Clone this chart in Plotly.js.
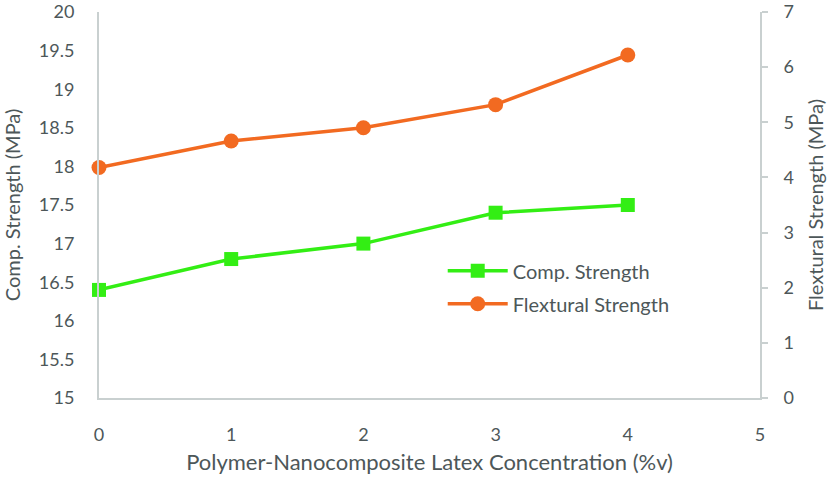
<!DOCTYPE html>
<html>
<head>
<meta charset="utf-8">
<script src="https://cdn.plot.ly/plotly-3.0.1.min.js"></script>
<style>
  html, body { margin: 0; padding: 0; background: #fff; }
  #chart { width: 830px; height: 477px; }
</style>
</head>
<body>
<div id="chart"></div>
<script>
let concentration = [0, 1, 2, 3, 4];
let compStrength = [16.4, 16.8, 17.0, 17.4, 17.5];
let flexStrength = [4.18, 4.66, 4.9, 5.32, 6.22];

let textColor = '#4d5759';
let axisColor = '#c9d0d0';

let data = [{
    type: 'scatter',
    mode: 'lines+markers',
    name: 'Comp. Strength',
    legendgroup: 'comp',
    x: concentration,
    y: compStrength,
    line: {color: '#33ee14', width: 3.5},
    marker: {symbol: 'square', size: 14, color: '#33ee14'},
    cliponaxis: false
}, {
    type: 'scatter',
    mode: 'lines+markers',
    name: 'Flextural Strength',
    legendgroup: 'flex',
    x: concentration,
    y: flexStrength,
    yaxis: 'y2',
    line: {color: '#f26a21', width: 3.5},
    marker: {symbol: 'circle', size: 15, color: '#f26a21'},
    cliponaxis: false
}];

let layout = {
    width: 830,
    height: 477,
    margin: {l: 99, r: 70, t: 12, b: 79},
    paper_bgcolor: '#fff',
    plot_bgcolor: '#fff',
    font: {family: 'Lato, "Open Sans", sans-serif', size: 18, color: textColor},
    showlegend: true,
    legend: {
        x: 0.52, y: 0.38, xanchor: 'left', yanchor: 'top',
        bgcolor: 'rgba(0,0,0,0)',
        font: {size: 20, color: textColor},
        tracegroupgap: 4,
        itemwidth: 60
    },
    xaxis: {
        range: [0, 5],
        tickvals: [0, 1, 2, 3, 4, 5],
        showgrid: false,
        zeroline: false,
        showline: true,
        linecolor: axisColor,
        linewidth: 2,
        ticks: '',
        ticklabelstandoff: 19,
        title: {text: 'Polymer-Nanocomposite Latex Concentration (%v)', font: {size: 22}, standoff: 11}
    },
    yaxis: {
        range: [15, 20],
        dtick: 0.5,
        showgrid: false,
        zeroline: false,
        showline: true,
        linecolor: axisColor,
        linewidth: 2,
        ticks: '',
        ticklabelstandoff: 19,
        ticklabeloverflow: 'allow',
        title: {text: 'Comp. Strength (MPa)', font: {size: 20}, standoff: 19}
    },
    yaxis2: {
        range: [0, 7],
        dtick: 1,
        overlaying: 'y',
        side: 'right',
        showgrid: false,
        zeroline: false,
        showline: true,
        linecolor: axisColor,
        linewidth: 2,
        ticks: 'outside',
        ticklen: 6,
        tickcolor: axisColor,
        tickwidth: 2,
        ticklabelstandoff: 12,
        ticklabeloverflow: 'allow',
        title: {text: 'Flextural Strength (MPa)', font: {size: 20}, standoff: 16}
    }
};

Plotly.newPlot('chart', data, layout, {displayModeBar: false, staticPlot: true});
</script>
</body>
</html>
